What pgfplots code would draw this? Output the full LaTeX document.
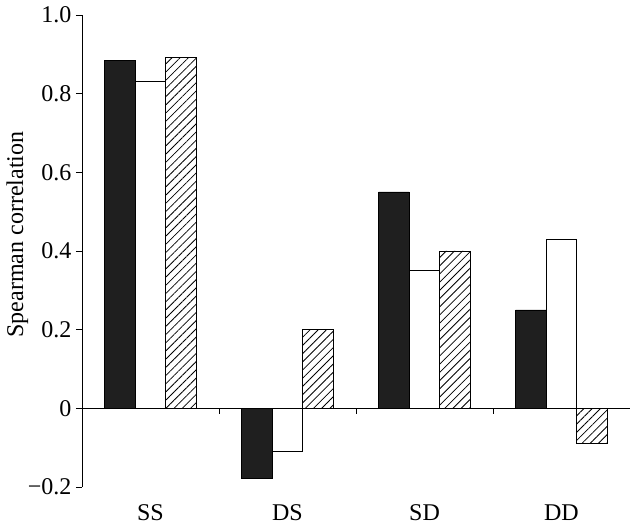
\documentclass[border=0pt]{standalone}
\usepackage{fontspec}
\setmainfont{Liberation Serif}
\usepackage{pgfplots}
\pgfplotsset{compat=1.18}
\usetikzlibrary{patterns.meta}

\begin{document}
\begin{tikzpicture}
\begin{axis}[
    name=ax,
    at={(0,0)}, anchor=south west,
    scale only axis,
    width=548pt, height=472pt,
    xmin=-0.5, xmax=3.5,
    ymin=-0.2, ymax=1.0,
    axis y line*=left,
    axis x line*=bottom,
    x axis line style={draw=none},
    ytick={-0.2,0,0.2,0.4,0.6,0.8,1.0},
    yticklabels={−0.2,0,0.2,0.4,0.6,0.8,1.0},
    xtick={0,1,2,3},
    xticklabels={SS,DS,SD,DD},
    major x tick style={draw=none},
    tick align=outside,
    major tick length=6pt,
    tick style={black, line width=0.8pt},
    axis line style={black, line width=0.8pt},
    ticklabel style={font=\fontsize{24}{28}\selectfont},
    yticklabel style={xshift=-1pt},
    xticklabel style={yshift=-8pt},
    ylabel={Spearman correlation},
    ylabel style={font=\fontsize{24}{28}\selectfont, at={(rel axis cs:-0.118,0.535)}, anchor=center},
    ybar=0pt,
    bar width=0.223,
    clip=false,
]
\addplot[draw=black, line width=0.8pt, fill=black!88, bar shift=-0.223]
    coordinates {(0,0.885) (1,-0.177) (2,0.55) (3,0.25)};
\addplot[draw=black, line width=0.8pt, fill=white, bar shift=0]
    coordinates {(0,0.83) (1,-0.109) (2,0.35) (3,0.43)};
\addplot[draw=black, line width=0.8pt, bar shift=0.223,
    pattern={Lines[angle=45,distance=5.8pt,line width=0.8pt]}]
    coordinates {(0,0.893) (1,0.20) (2,0.40) (3,-0.089)};
% zero line with group separator ticks
\draw[black, line width=0.8pt] (axis cs:-0.5,0) -- (axis cs:3.5,0);
\draw[black, line width=0.8pt] (axis cs:0.5,0) -- ([yshift=-6pt]axis cs:0.5,0);
\draw[black, line width=0.8pt] (axis cs:1.5,0) -- ([yshift=-6pt]axis cs:1.5,0);
\draw[black, line width=0.8pt] (axis cs:2.5,0) -- ([yshift=-6pt]axis cs:2.5,0);
\draw[black, line width=0.8pt] (axis cs:3.5,0) -- ([yshift=-6pt]axis cs:3.5,0);
\end{axis}
\pgfresetboundingbox
\path[use as bounding box] ([shift={(-82pt,-38pt)}]ax.south west) rectangle ([shift={(548pt,487pt)}]ax.south west);
\end{tikzpicture}
\end{document}
